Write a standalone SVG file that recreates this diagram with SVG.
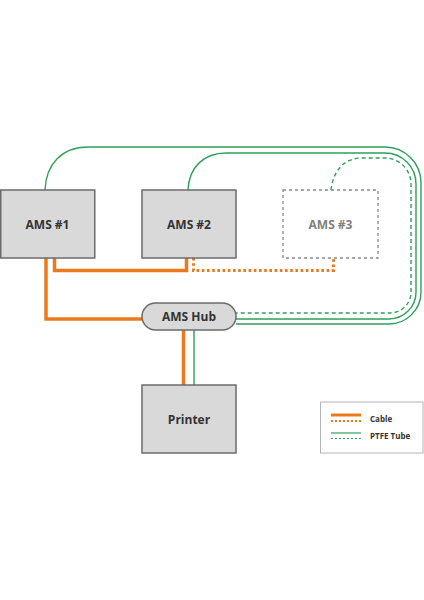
<svg xmlns="http://www.w3.org/2000/svg" width="424" height="600" viewBox="0 0 424 600">
<style>
.box{fill:#d9d9d9;stroke:#6b6b6b;stroke-width:1.5}
.ghost{fill:#ffffff;stroke:#8a8a8a;stroke-width:1.3;stroke-dasharray:3 3}
.lbl{font-family:"Open Sans","Liberation Sans",sans-serif;font-weight:700;font-size:12px;fill:#333333;text-anchor:middle}
.glbl{font-family:"Open Sans","Liberation Sans",sans-serif;font-weight:700;font-size:12px;fill:#808080;text-anchor:middle}
.leg{font-family:"Open Sans","Liberation Sans",sans-serif;font-weight:700;font-size:8px;fill:#333333}
.cable{fill:none;stroke:#ec7a1c;stroke-width:3.5}
.cabledot{fill:none;stroke:#ec7a1c;stroke-width:3;stroke-dasharray:2.6 2.6}
.tube{fill:none;stroke:#2ea05b;stroke-width:1.4}
.tubedash{fill:none;stroke:#2ea05b;stroke-width:1.4;stroke-dasharray:4 3}
</style>
<rect width="424" height="600" fill="#ffffff"/>
<g id="connectors">
<path class="tube" d="M45,190 C46,164 62,147 88,147 L385,147 A36,36 0 0 1 421,183 L421,292 A32,32 0 0 1 389,324 L236,324"/>
<path class="tube" d="M188,190 C189,167 204,153 226,153 L385,153 A31,31 0 0 1 416,184 L416,292 A27,27 0 0 1 389,319 L236,319"/>
<path class="tubedash" d="M331,190 C333,172 343,158 362,158 L385,158 A26,26 0 0 1 411,184 L411,292 A21,21 0 0 1 390,313 L236,313"/>
<path class="cable" d="M46,258 L46,319 L142,319"/>
<path class="cable" d="M54.5,258 L54.5,270.5 L186.5,270.5 L186.5,258"/>
<path class="cabledot" d="M193.5,258 L193.5,270.5 L333.5,270.5 L333.5,258"/>
<path class="cable" d="M183.5,330 L183.5,385"/>
<path class="tube" d="M194,330 L194,385"/>
</g>
<g id="ams1">
<rect class="box" x="0.75" y="190" width="94" height="68"/>
<text class="lbl" x="47.5" y="228.5">AMS #1</text>
</g>
<g id="ams2">
<rect class="box" x="142" y="190" width="94" height="68"/>
<text class="lbl" x="189" y="228.5">AMS #2</text>
</g>
<g id="ams3">
<rect class="ghost" x="283" y="190" width="95" height="68"/>
<text class="glbl" x="330.5" y="228.5">AMS #3</text>
</g>
<g id="hub">
<rect class="box" x="142" y="303" width="94" height="27" rx="13.5"/>
<text class="lbl" x="189" y="321">AMS Hub</text>
</g>
<g id="printer">
<rect class="box" x="142" y="385" width="94" height="68"/>
<text class="lbl" x="189" y="423.5">Printer</text>
</g>
<g id="legend">
<rect x="320.5" y="402" width="102.5" height="51" fill="#ffffff" stroke="#b5b5b5" stroke-width="1"/>
<line x1="331" y1="415" x2="361" y2="415" stroke="#ec7a1c" stroke-width="3"/>
<line x1="331" y1="421" x2="361" y2="421" stroke="#ec7a1c" stroke-width="2" stroke-dasharray="2 2"/>
<text class="leg" x="370" y="421.5">Cable</text>
<line x1="331" y1="433" x2="361" y2="433" stroke="#2ea05b" stroke-width="1.2"/>
<line x1="331" y1="438.5" x2="361" y2="438.5" stroke="#2ea05b" stroke-width="1.2" stroke-dasharray="2 2"/>
<text class="leg" x="370" y="439">PTFE Tube</text>
</g>
</svg>
